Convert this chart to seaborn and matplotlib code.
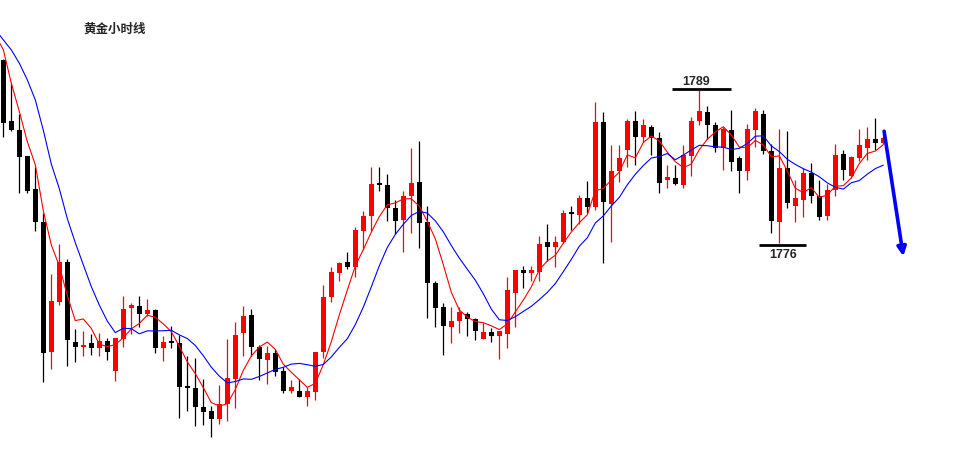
import numpy as np
import pandas as pd
import matplotlib
matplotlib.use("Agg")
import matplotlib.pyplot as plt
import seaborn as sns

# ---- hourly gold candles ----
opens = [1791.5, 1786.4, 1785.6, 1783.4, 1780.6, 1777.8, 1766.8, 1771.0, 1774.4, 1767.6,
         1767.2, 1767.5, 1767.1, 1767.7, 1765.2, 1767.9, 1770.5, 1770.7, 1770.0, 1770.3,
         1767.1, 1767.6, 1767.5, 1763.9, 1763.7, 1762.1, 1761.8, 1761.1, 1762.4, 1764.5,
         1768.4, 1769.9, 1767.2, 1766.1, 1766.7, 1765.2, 1763.5, 1763.5, 1763.0, 1763.4,
         1766.8, 1771.4, 1773.5, 1774.4, 1774.0, 1777.0, 1778.3, 1781.0, 1780.9, 1779.0,
         1778.0, 1780.0, 1781.2, 1777.8, 1772.6, 1770.6, 1768.9, 1769.4, 1770.0, 1769.6,
         1767.9, 1768.5, 1768.1, 1768.3, 1771.8, 1773.7, 1773.5, 1773.6, 1776.1, 1775.7,
         1776.1, 1778.6, 1778.4, 1779.8, 1779.1, 1786.3, 1779.3, 1782.1, 1783.9, 1786.4,
         1785.0, 1785.9, 1784.9, 1781.4, 1781.5, 1780.9, 1783.4, 1786.4, 1787.1, 1786.0,
         1784.1, 1785.6, 1783.2, 1782.1, 1785.6, 1787.0, 1783.8, 1777.8, 1782.4, 1779.2,
         1779.7, 1782.0, 1780.0, 1778.3, 1780.5, 1783.6, 1781.7, 1783.2, 1784.1, 1784.8,
         1784.5]
highs = [1791.6, 1789.6, 1787.0, 1783.4, 1782.5, 1778.6, 1773.4, 1775.9, 1774.7, 1768.7,
         1768.6, 1768.3, 1768.4, 1768.0, 1768.0, 1771.5, 1770.9, 1771.5, 1771.3, 1770.4,
         1768.1, 1769.0, 1768.2, 1766.4, 1766.3, 1764.5, 1762.2, 1764.0, 1767.9, 1769.3,
         1770.7, 1770.4, 1767.4, 1767.3, 1767.0, 1765.5, 1764.4, 1764.5, 1763.8, 1766.8,
         1772.5, 1774.0, 1774.4, 1775.3, 1777.4, 1778.7, 1782.5, 1782.5, 1781.9, 1779.7,
         1780.4, 1784.1, 1784.7, 1779.2, 1772.8, 1770.9, 1770.6, 1770.6, 1770.2, 1769.7,
         1769.2, 1768.8, 1768.6, 1773.1, 1773.7, 1774.1, 1774.1, 1776.6, 1777.6, 1776.6,
         1778.8, 1779.2, 1780.1, 1781.3, 1788.0, 1787.1, 1784.3, 1784.3, 1786.5, 1787.2,
         1786.5, 1786.0, 1785.4, 1782.6, 1782.6, 1784.3, 1786.7, 1789.0, 1787.6, 1786.3,
         1785.9, 1787.3, 1783.4, 1786.1, 1787.5, 1787.3, 1784.4, 1785.7, 1785.5, 1781.4,
         1782.4, 1782.8, 1781.4, 1781.0, 1784.4, 1783.9, 1783.4, 1785.7, 1785.9, 1786.6,
         1785.3]
lows = [1785.0, 1785.5, 1780.3, 1780.3, 1777.0, 1764.2, 1765.3, 1770.8, 1765.6, 1765.9,
        1766.4, 1766.5, 1766.4, 1766.1, 1764.3, 1767.2, 1768.3, 1768.9, 1769.8, 1766.7,
        1766.0, 1767.1, 1761.2, 1761.8, 1760.5, 1760.6, 1759.6, 1760.7, 1760.9, 1762.0,
        1766.4, 1766.4, 1764.4, 1764.1, 1764.7, 1763.3, 1763.3, 1763.0, 1762.2, 1762.7,
        1766.3, 1771.0, 1772.8, 1773.8, 1773.1, 1775.4, 1777.0, 1780.4, 1777.9, 1776.8,
        1775.3, 1776.9, 1775.6, 1769.7, 1768.9, 1766.5, 1767.5, 1768.4, 1768.1, 1767.8,
        1767.9, 1767.6, 1766.2, 1767.1, 1768.9, 1772.2, 1772.8, 1772.8, 1774.5, 1774.0,
        1776.0, 1777.1, 1777.6, 1778.6, 1778.8, 1774.3, 1776.1, 1781.2, 1782.5, 1782.6,
        1784.6, 1783.5, 1780.3, 1780.7, 1780.9, 1780.7, 1781.7, 1786.0, 1784.8, 1783.7,
        1782.2, 1782.1, 1780.3, 1781.4, 1784.2, 1783.6, 1776.9, 1776.0, 1779.0, 1777.8,
        1778.2, 1779.4, 1778.0, 1778.0, 1780.0, 1781.4, 1781.5, 1783.0, 1783.1, 1783.9,
        1784.4]
closes = [1786.2, 1785.6, 1783.3, 1780.4, 1777.8, 1766.7, 1771.1, 1774.4, 1767.8, 1767.2,
          1767.4, 1767.1, 1767.7, 1766.8, 1768.0, 1770.4, 1770.8, 1770.0, 1770.3, 1767.1,
          1767.6, 1767.5, 1763.8, 1763.7, 1762.1, 1761.7, 1761.1, 1762.4, 1764.6, 1768.2,
          1769.8, 1767.2, 1766.2, 1766.7, 1765.1, 1763.5, 1763.8, 1763.0, 1763.5, 1766.8,
          1771.4, 1773.6, 1774.3, 1774.0, 1777.1, 1778.3, 1781.0, 1780.9, 1779.0, 1777.9,
          1780.0, 1781.1, 1777.7, 1772.6, 1770.5, 1769.0, 1769.4, 1770.2, 1769.6, 1768.6,
          1768.5, 1768.1, 1768.6, 1772.0, 1773.7, 1773.5, 1773.7, 1775.9, 1775.7, 1776.1,
          1778.6, 1778.5, 1779.8, 1779.1, 1786.3, 1779.5, 1782.1, 1783.2, 1786.4, 1785.0,
          1786.0, 1784.9, 1781.1, 1781.6, 1781.0, 1783.5, 1786.4, 1787.2, 1786.0, 1784.1,
          1785.7, 1782.9, 1782.1, 1785.7, 1787.2, 1783.8, 1777.9, 1782.4, 1779.4, 1779.8,
          1782.0, 1780.0, 1778.2, 1780.5, 1783.5, 1782.2, 1783.3, 1784.3, 1784.8, 1784.5,
          1784.9]
# closes before the visible window (estimated from where the MA lines enter)
prior_closes = [1795.0, 1794.1, 1794.6, 1794.5, 1794.8, 1792.4, 1799.8, 1795.3, 1793.2, 1787.6]

title = "黄金小时线"

df = pd.DataFrame({"open": opens, "high": highs, "low": lows, "close": closes})
df["x"] = np.arange(len(df))

all_close = pd.Series(prior_closes + closes,
                      index=np.arange(-len(prior_closes), len(closes)))
ma = pd.DataFrame({"x": all_close.index,
                   "ma5": all_close.rolling(5).mean().values,
                   "ma10": all_close.rolling(10).mean().values}).dropna()

sns.set_style("white")
plt.rcParams["font.family"] = ["Liberation Sans", "Noto Sans CJK SC", "DejaVu Sans"]

fig = plt.figure(figsize=(9.79, 4.74), dpi=100)
ax = fig.add_axes([0, 0, 1, 1])

up = df["close"] >= df["open"]
colors = np.where(up, "#ff0000", "#000000")

# wicks + bodies
ax.vlines(df["x"], df["low"], df["high"], colors=colors, lw=0.9, zorder=2)
body_lo = np.minimum(df["open"], df["close"])
body_h = np.maximum((df["close"] - df["open"]).abs(), 0.17)
ax.bar(df["x"], body_h, bottom=body_lo, width=0.62, color=colors, linewidth=0, zorder=2)

# moving averages
sns.lineplot(data=ma, x="x", y="ma5", color="#ff0000", lw=0.8, ax=ax, zorder=3)
sns.lineplot(data=ma, x="x", y="ma10", color="#0000ff", lw=0.8, ax=ax, zorder=3)

# recent swing high / low markers
i_hi = 60 + int(np.argmax(highs[60:]))
hi = highs[i_hi]
ax.hlines(hi + 0.05, i_hi - 3.45, i_hi + 3.95, color="black", lw=2.0)
ax.text(i_hi - 0.4, hi + 0.2, f"{hi:.0f}", ha="center", va="bottom",
        fontsize=9, fontweight="bold")

i_lo = 90 + int(np.argmin(lows[90:]))
lo = lows[i_lo]
ax.hlines(lo - 0.12, i_lo - 2.6, i_lo + 3.3, color="black", lw=2.0)
ax.text(i_lo + 0.5, lo - 0.5, f"{lo:.0f}", ha="center", va="top",
        fontsize=9, fontweight="bold")

# forecast arrow
last = len(closes) - 1
ax.annotate("", xy=(last + 2.5, 1774.9), xytext=(last + 0.1, 1785.5),
            arrowprops=dict(arrowstyle="-|>", color="#0000ff", lw=2.6,
                            mutation_scale=13, shrinkA=0, shrinkB=0))

fig.text(83 / 979, 1 - 29 / 474, title, fontsize=9, fontweight="bold",
         family=["Noto Sans CJK SC"], va="center", ha="left")

ax.set_xlim(-0.4125, 121.96)
ax.set_ylim(1756.43, 1796.63)
ax.axis("off")

fig.savefig("out.png", dpi=100, facecolor="white")
